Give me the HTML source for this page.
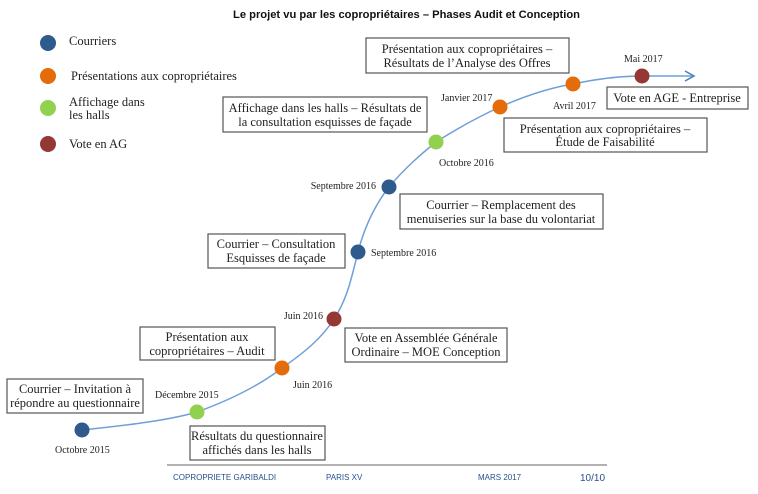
<!DOCTYPE html>
<html><head><meta charset="utf-8"><style>
html,body{margin:0;padding:0;background:#fff;}
svg{display:block;}
.t{font-family:"Liberation Serif",serif;font-size:12.5px;fill:#222;}
.d{font-family:"Liberation Serif",serif;font-size:10px;fill:#222;}
.f{font-family:"Liberation Sans",sans-serif;font-size:8px;fill:#2a4f8f;}
</style></head><body>
<svg width="758" height="494" viewBox="0 0 758 494" xmlns="http://www.w3.org/2000/svg">
<text x="233" y="18" font-family="Liberation Sans,sans-serif" font-weight="bold" font-size="11" fill="#111" textLength="347" lengthAdjust="spacingAndGlyphs">Le projet vu par les copropriétaires – Phases Audit et Conception</text>

<!-- legend -->
<circle cx="48" cy="43" r="8" fill="#2f5a8e"/>
<text class="t" x="69" y="45">Courriers</text>
<circle cx="48" cy="76" r="8" fill="#e46c0a"/>
<text class="t" x="71" y="80">Présentations aux copropriétaires</text>
<circle cx="48" cy="108" r="8" fill="#92d050"/>
<text class="t" x="69" y="106">Affichage dans</text>
<text class="t" x="69" y="119">les halls</text>
<circle cx="48" cy="144" r="8" fill="#953735"/>
<text class="t" x="69" y="148">Vote en AG</text>

<!-- curve -->
<path d="M82,430 C130,425 170,420 197,412 C230,400 260,385 282,368 C305,352 322,338 334,319 C348,298 352,275 358,252 C365,225 375,205 389,187 C405,168 420,155 436,142 C458,128 478,117 500,107 C525,96 548,88 573,84 C600,78 620,76 642,76 L692,76" fill="none" stroke="#6f9fd8" stroke-width="1.5"/>
<path d="M685,71 L694,76 L685,81" fill="none" stroke="#4a7ebb" stroke-width="1.5"/>

<!-- dots -->
<circle cx="82" cy="430" r="7.5" fill="#2f5a8e"/>
<circle cx="197" cy="412" r="7.5" fill="#92d050"/>
<circle cx="282" cy="368" r="7.5" fill="#e46c0a"/>
<circle cx="334" cy="319" r="7.5" fill="#953735"/>
<circle cx="358" cy="252" r="7.5" fill="#2f5a8e"/>
<circle cx="389" cy="187" r="7.5" fill="#2f5a8e"/>
<circle cx="436" cy="142" r="7.5" fill="#92d050"/>
<circle cx="500" cy="107" r="7.5" fill="#e46c0a"/>
<circle cx="573" cy="84" r="7.5" fill="#e46c0a"/>
<circle cx="642" cy="76" r="7.5" fill="#953735"/>

<!-- date labels -->
<text class="d" x="55" y="453">Octobre 2015</text>
<text class="d" x="155" y="398">Décembre 2015</text>
<text class="d" x="293" y="388">Juin 2016</text>
<text class="d" x="323" y="319" text-anchor="end">Juin 2016</text>
<text class="d" x="371" y="256">Septembre 2016</text>
<text class="d" x="376" y="189" text-anchor="end">Septembre 2016</text>
<text class="d" x="439" y="166">Octobre 2016</text>
<text class="d" x="441" y="101">Janvier 2017</text>
<text class="d" x="553" y="109">Avril 2017</text>
<text class="d" x="624" y="62">Mai 2017</text>

<!-- boxes -->
<g fill="#fff" stroke="#555" stroke-width="1.2">
<rect x="366" y="38" width="203" height="35"/>
<rect x="223" y="97" width="204" height="35"/>
<rect x="504" y="118" width="203" height="34"/>
<rect x="607" y="87" width="141" height="22"/>
<rect x="400" y="194" width="203" height="35"/>
<rect x="208" y="234" width="137" height="34"/>
<rect x="345" y="328" width="162" height="34"/>
<rect x="140" y="327" width="135" height="33"/>
<rect x="7" y="379" width="136" height="34"/>
<rect x="190" y="426" width="135" height="34"/>
</g>
<g class="t" text-anchor="middle">
<text x="467" y="53">Présentation aux copropriétaires –</text>
<text x="467" y="67">Résultats de l’Analyse des Offres</text>
<text x="325" y="112">Affichage dans les halls – Résultats de</text>
<text x="325" y="126">la consultation esquisses de façade</text>
<text x="605" y="133">Présentation aux copropriétaires –</text>
<text x="605" y="146">Étude de Faisabilité</text>
<text x="677" y="102">Vote en AGE - Entreprise</text>
<text x="501" y="209">Courrier – Remplacement des</text>
<text x="501" y="223">menuiseries sur la base du volontariat</text>
<text x="276" y="248">Courrier – Consultation</text>
<text x="276" y="262">Esquisses de façade</text>
<text x="426" y="342">Vote en Assemblée Générale</text>
<text x="426" y="356">Ordinaire – MOE Conception</text>
<text x="207" y="341">Présentation aux</text>
<text x="207" y="355">copropriétaires – Audit</text>
<text x="75" y="393">Courrier – Invitation à</text>
<text x="75" y="407">répondre au questionnaire</text>
<text x="257" y="440">Résultats du questionnaire</text>
<text x="257" y="454">affichés dans les halls</text>
</g>

<!-- footer -->
<line x1="167" y1="465" x2="607" y2="465" stroke="#999" stroke-width="1.5"/>
<text class="f" x="173" y="480">COPROPRIETE GARIBALDI</text>
<text class="f" x="326" y="480">PARIS XV</text>
<text class="f" x="478" y="480">MARS 2017</text>
<text x="580" y="481" font-family="Liberation Sans,sans-serif" font-size="10" fill="#2a4f8f">10/10</text>
</svg>
</body></html>
